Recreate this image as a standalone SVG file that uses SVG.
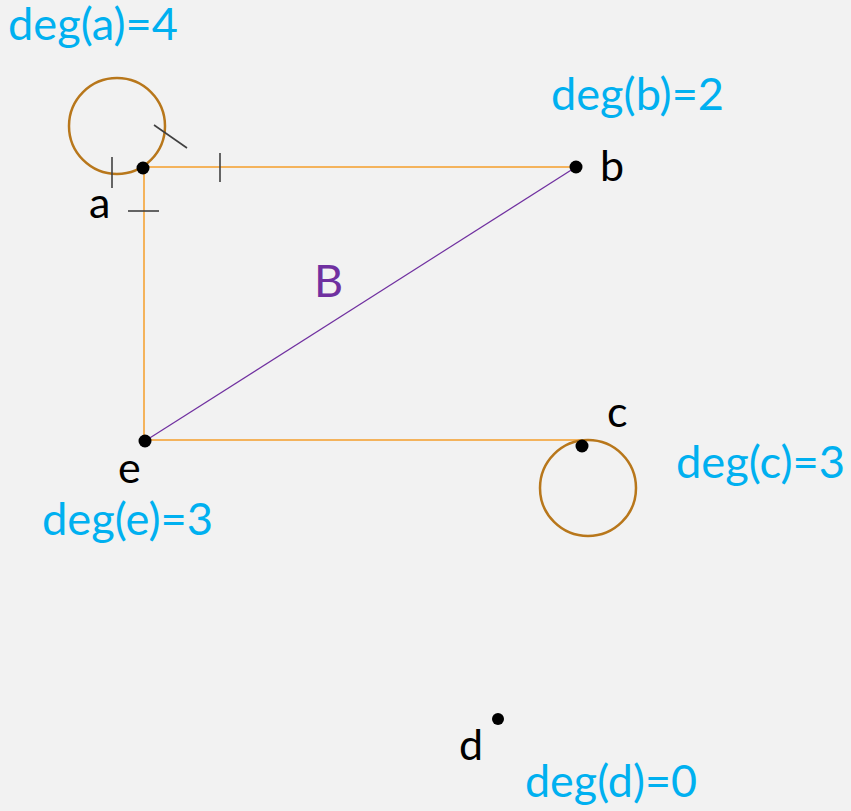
<svg xmlns="http://www.w3.org/2000/svg" width="851" height="811" viewBox="0 0 851 811">
<style>
.deg{font-family:"Lato","Open Sans","Liberation Sans",sans-serif;font-size:44px;fill:#00b0f0}
.lbl{font-family:"Lato","Open Sans","Liberation Sans",sans-serif;font-size:43px;fill:#000}
.edge{stroke:#f4b35c;stroke-width:2;fill:none}
.loop{stroke:#b8771b;stroke-width:2.5;fill:none}
.tick{stroke:#404040;stroke-width:1.6}
.dot{fill:#000}
</style>
<rect width="851" height="811" fill="#f2f2f2"/>
<g id="connectors">
<line class="edge" x1="143" y1="167" x2="576" y2="167"/>
<line class="edge" x1="144" y1="168" x2="144" y2="441"/>
<line class="edge" x1="145" y1="440" x2="583" y2="440"/>
<line x1="145" y1="441" x2="576" y2="167" stroke="#7030a0" stroke-width="1.2"/>
<circle class="loop" cx="117" cy="126" r="48"/>
<circle class="loop" cx="588" cy="488" r="48"/>
<text x="314" y="297" font-family="Lato,'Open Sans','Liberation Sans',sans-serif" font-size="45" fill="#7030a0">B</text>
</g>
<g id="ticks">
<line class="tick" x1="112" y1="157" x2="112" y2="188"/>
<line class="tick" x1="220" y1="153" x2="220" y2="182"/>
<line class="tick" x1="128" y1="211" x2="159" y2="211"/>
<line class="tick" x1="154" y1="125" x2="187" y2="148"/>
</g>
<g id="node-a">
<circle class="dot" cx="143" cy="168" r="6.5"/>
<text class="lbl" x="89" y="218">a</text>
<text class="deg" x="8" y="40" textLength="170" lengthAdjust="spacingAndGlyphs">deg(a)=4</text>
</g>
<g id="node-b">
<circle class="dot" cx="576" cy="167" r="6.5"/>
<text class="lbl" x="600" y="181">b</text>
<text class="deg" x="551" y="110" textLength="173" lengthAdjust="spacingAndGlyphs">deg(b)=2</text>
</g>
<g id="node-c">
<circle class="dot" cx="582" cy="446" r="6.5"/>
<text class="lbl" x="607" y="427">c</text>
<text class="deg" x="676" y="478" textLength="169" lengthAdjust="spacingAndGlyphs">deg(c)=3</text>
</g>
<g id="node-e">
<circle class="dot" cx="145" cy="441" r="6.5"/>
<text class="lbl" x="118" y="483">e</text>
<text class="deg" x="42" y="535" textLength="171" lengthAdjust="spacingAndGlyphs">deg(e)=3</text>
</g>
<g id="node-d">
<circle class="dot" cx="498" cy="719" r="6"/>
<text class="lbl" x="459" y="760">d</text>
<text class="deg" x="525" y="797" textLength="172" lengthAdjust="spacingAndGlyphs">deg(d)=0</text>
</g>
</svg>
